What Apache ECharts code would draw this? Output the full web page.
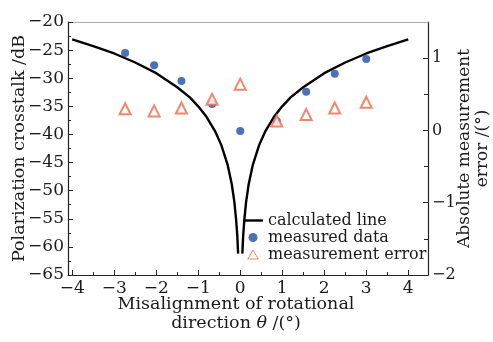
<!DOCTYPE html>
<html><head><meta charset="utf-8">
<script src="https://cdn.jsdelivr.net/npm/echarts@6/dist/echarts.min.js"></script>
<style>html,body{margin:0;padding:0;background:#fff}#c{width:493px;height:342px}</style>
</head><body><div id="c"></div>
<script>
// calculated crosstalk curve
const curveX = [-4,-3.5,-3,-2.5,-2,-1.5,-1.2,-1,-0.8,-0.6,-0.45,-0.3,-0.2,-0.14,-0.1,-0.07,-0.05,0,0.05,0.07,0.1,0.14,0.2,0.3,0.45,0.6,0.8,1,1.2,1.5,2,2.5,3,3.5,4];
const curveY = [-23.1,-24.3,-25.6,-27.2,-29.1,-31.6,-33.4,-35.0,-36.9,-39.4,-41.9,-45.4,-48.9,-52.0,-55.0,-58.0,-61.2,null,-61.2,-58.0,-55.0,-52.0,-48.9,-45.4,-41.9,-39.4,-36.9,-35.0,-33.4,-31.6,-29.1,-27.2,-25.6,-24.3,-23.1];
// measured data (left axis)
const measuredX = [-2.74,-2.05,-1.4,-0.67,0,0.87,1.57,2.25,3.0];
const measuredY = [-25.5,-27.7,-30.5,-34.6,-39.4,-37.6,-32.4,-29.2,-26.6];
// measurement error (right axis)
const errorX = [-2.74,-2.05,-1.4,-0.67,0,0.87,1.57,2.25,3.0];
const errorY = [0.30,0.27,0.31,0.43,0.64,0.13,0.22,0.31,0.39];
// ticks
const xTicks = [-4,-3,-2,-1,0,1,2,3,4];
const xMinorTicks = [-3.5,-2.5,-1.5,-0.5,0.5,1.5,2.5,3.5];
const rightTicks = [-2,-1,0,1];
const rightMinorTicks = [-1.5,-0.5,0.5];

const FONT = 'DejaVu Serif';
const TXT = '#1a1a1a';
const minus = v => String(v).replace('-', '\u2212');
const X_MIN = -4.1, X_MAX = 4.47;

const chart = echarts.init(document.getElementById('c'), null, {renderer:'canvas'});
chart.setOption({
  animation: false,
  backgroundColor: '#fff',
  grid: {left: 68, right: 65, top: 22, bottom: 67, containLabel: false, outerBoundsMode: 'none'},
  legend: {
    orient: 'vertical', left: 238, top: 207, itemWidth: 20, itemHeight: 9, itemGap: 0,
    textStyle: {fontFamily: FONT, fontSize: 16, color: TXT, lineHeight: 17},
    data: [
      {name: 'calculated line', icon: 'path://M0,0 L20,0 L20,2.4 L0,2.4 Z', itemStyle: {color: '#000', borderWidth: 0}},
      {name: 'measured data', icon: 'circle'},
      {name: 'measurement error', icon: 'path://M5,0 L10,8.7 L0,8.7 Z', itemStyle: {color: '#fff', borderColor: '#f06848', borderWidth: 1}}
    ]
  },
  xAxis: [
    {type: 'value', min: X_MIN, max: X_MAX, position: 'bottom',
     axisLine: {onZero: false, lineStyle: {color: '#222', width: 1.2}},
     axisTick: {inside: true, length: 5, customValues: xTicks, lineStyle: {color: '#222'}},
     axisLabel: {customValues: xTicks, formatter: minus, margin: 5, fontFamily: FONT, fontSize: 17, color: TXT},
     splitLine: {show: false},
     name: 'Misalignment of rotational\ndirection {i|\u03b8} /(\u00b0)',
     nameLocation: 'middle', nameGap: 20, nameMoveOverlap: false,
     nameTextStyle: {fontFamily: FONT, fontSize: 17.5, color: TXT, lineHeight: 19, padding: [0, 24, 0, 0],
       rich: {i: {fontFamily: FONT, fontSize: 17.5, fontStyle: 'italic', color: TXT}}}},
    {type: 'value', min: X_MIN, max: X_MAX, position: 'bottom', offset: 0,
     axisLine: {show: false, onZero: false},
     axisTick: {inside: true, length: 3, customValues: xMinorTicks, lineStyle: {color: '#222'}},
     axisLabel: {show: false}, splitLine: {show: false}},
    {type: 'value', min: X_MIN, max: X_MAX, position: 'top',
     axisLine: {onZero: false, lineStyle: {color: '#aaa', width: 1}},
     axisTick: {show: false}, axisLabel: {show: false}, splitLine: {show: false}}
  ],
  yAxis: [
    {type: 'value', min: -65, max: -20, interval: 5, position: 'left',
     axisLine: {show: true, onZero: false, lineStyle: {color: '#222', width: 1.2}},
     axisTick: {inside: true, length: 5, lineStyle: {color: '#222'}},
     minorTick: {show: true, splitNumber: 2, length: 3, lineStyle: {color: '#222'}},
     axisLabel: {formatter: minus, margin: 4, fontFamily: FONT, fontSize: 17, color: TXT},
     splitLine: {show: false},
     name: 'Polarization crosstalk /dB', nameLocation: 'middle', nameGap: 40, nameMoveOverlap: false,
     nameTextStyle: {fontFamily: FONT, fontSize: 17.5, color: TXT}},
    {type: 'value', min: -2, max: 1.5, position: 'right',
     axisLine: {show: true, onZero: false, lineStyle: {color: '#222', width: 1.2}},
     axisTick: {inside: true, length: 5, customValues: rightTicks, lineStyle: {color: '#222'}},
     axisLabel: {customValues: rightTicks, formatter: minus, margin: 4, fontFamily: FONT, fontSize: 16, color: TXT},
     splitLine: {show: false},
     name: 'Absolute measurement\nerror /(\u00b0)', nameLocation: 'middle', nameGap: 28, nameRotate: 90, nameMoveOverlap: false,
     nameTextStyle: {fontFamily: FONT, fontSize: 17, color: TXT, lineHeight: 18}},
    {type: 'value', min: -2, max: 1.5, position: 'right', offset: 0,
     axisLine: {show: false, onZero: false},
     axisTick: {inside: true, length: 4, customValues: rightMinorTicks, lineStyle: {color: '#222'}},
     axisLabel: {show: false}, splitLine: {show: false}}
  ],
  series: [
    {name: 'calculated line', type: 'line', xAxisIndex: 0, yAxisIndex: 0, symbol: 'none',
     connectNulls: false, lineStyle: {color: '#000', width: 2.4}, itemStyle: {color: '#000'},
     data: curveX.map((x, i) => [x, curveY[i]]), z: 3},
    {name: 'measured data', type: 'scatter', xAxisIndex: 0, yAxisIndex: 0, symbol: 'circle', symbolSize: 8,
     itemStyle: {color: '#1f4fa3'}, data: measuredX.map((x, i) => [x, measuredY[i]]), z: 4},
    {name: 'measurement error', type: 'scatter', xAxisIndex: 0, yAxisIndex: 1, symbol: 'emptyTriangle', symbolSize: 11,
     itemStyle: {color: '#f06848', borderColor: '#f06848', borderWidth: 1}, data: errorX.map((x, i) => [x, errorY[i]]), z: 5}
  ]
});
</script></body></html>
